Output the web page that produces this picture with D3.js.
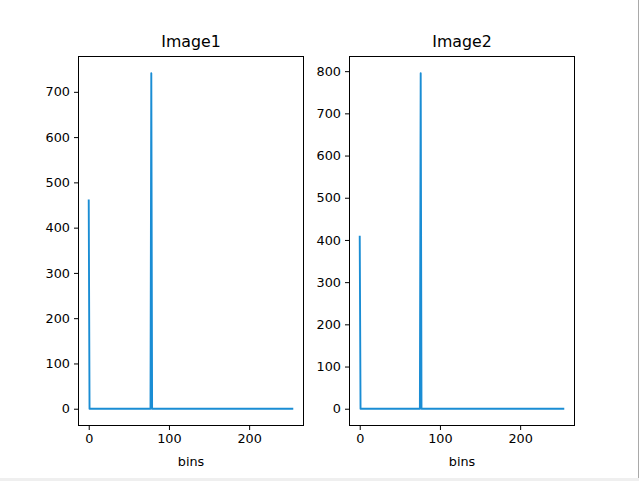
<!DOCTYPE html>
<html>
<head>
<meta charset="utf-8">
<script src="https://cdn.jsdelivr.net/npm/d3@7/dist/d3.min.js"></script>
<style>
  html, body { margin: 0; padding: 0; background: #fff; }
  svg { display: block; }
  text { font-family: "DejaVu Sans", sans-serif; fill: #000; }
</style>
</head>
<body>
<svg id="chart" width="639" height="481"></svg>
<script>
// ---- data ----
const binCount = 256;                 // histogram bins 0..255
const image1Bins = [0, 78];           // non-zero bins of Image1
const image1Counts = [462, 741];
const image2Bins = [0, 76];           // non-zero bins of Image2
const image2Counts = [410, 795];
const xTicks = [0, 100, 200];
const image1YTicks = [0, 100, 200, 300, 400, 500, 600, 700];
const image2YTicks = [0, 100, 200, 300, 400, 500, 600, 700, 800];
const titles = ["Image1", "Image2"];
const xLabel = "bins";

function histogram(bins, counts) {
  const lookup = new Map(bins.map((b, i) => [b, counts[i]]));
  return d3.range(binCount).map(b => ({ bin: b, count: lookup.get(b) || 0 }));
}

const panels = [
  { title: titles[0], data: histogram(image1Bins, image1Counts), yTicks: image1YTicks, left: 78.5, right: 303.5 },
  { title: titles[1], data: histogram(image2Bins, image2Counts), yTicks: image2YTicks, left: 349.5, right: 574.5 }
];

const svg = d3.select("#chart");
const axTop = 56.5, axBottom = 425.5;
const lineColor = "#1a8dd4";

panels.forEach(p => {
  const xmin = 0, xmax = binCount - 1;
  const xpad = (xmax - xmin) * 0.05;
  const x = d3.scaleLinear().domain([xmin - xpad, xmax + xpad]).range([p.left, p.right]);
  const ymax = d3.max(p.data, d => d.count), ymin = 0;
  const ypad = (ymax - ymin) * 0.05;
  const y = d3.scaleLinear().domain([ymin - ypad, ymax + ypad]).range([axBottom, axTop]);

  const g = svg.append("g");

  // line
  g.append("path")
    .datum(p.data)
    .attr("fill", "none")
    .attr("stroke", lineColor)
    .attr("stroke-width", 1.9)
    .attr("stroke-linejoin", "round")
    .attr("d", d3.line().x(d => x(d.bin)).y(d => y(d.count)));

  // frame
  g.append("rect")
    .attr("x", p.left).attr("y", axTop)
    .attr("width", p.right - p.left).attr("height", axBottom - axTop)
    .attr("fill", "none").attr("stroke", "#000").attr("stroke-width", 1);

  // x axis
  const xAxis = d3.axisBottom(x).tickValues(xTicks).tickSize(4.5).tickPadding(4).tickFormat(d3.format("d"));
  const gx = g.append("g").attr("transform", `translate(0,${axBottom})`).call(xAxis);
  gx.select(".domain").remove();
  gx.selectAll("text").style("font-size", "12.8px").attr("font-family", null);
  gx.selectAll("line").attr("stroke", "#000");

  // y axis
  const yAxis = d3.axisLeft(y).tickValues(p.yTicks).tickSize(4.5).tickPadding(4).tickFormat(d3.format("d"));
  const gy = g.append("g").attr("transform", `translate(${p.left},0)`).call(yAxis);
  gy.select(".domain").remove();
  gy.selectAll("text").style("font-size", "12.8px").attr("font-family", null);
  gy.selectAll("line").attr("stroke", "#000");

  // title
  g.append("text")
    .attr("x", (p.left + p.right) / 2).attr("y", 47.3)
    .attr("text-anchor", "middle")
    .style("font-size", "15.8px")
    .text(p.title);

  // x label
  g.append("text")
    .attr("x", (p.left + p.right) / 2).attr("y", 465.5)
    .attr("text-anchor", "middle")
    .style("font-size", "12.8px")
    .text(xLabel);
});

// window edge artefacts from the screenshot
svg.append("rect").attr("x", 0).attr("y", 478).attr("width", 639).attr("height", 3).attr("fill", "#efefef");
svg.append("line").attr("x1", 638.5).attr("x2", 638.5).attr("y1", 0).attr("y2", 478)
  .attr("stroke", "#a9a9a9").attr("stroke-width", 1);
</script>
</body>
</html>
